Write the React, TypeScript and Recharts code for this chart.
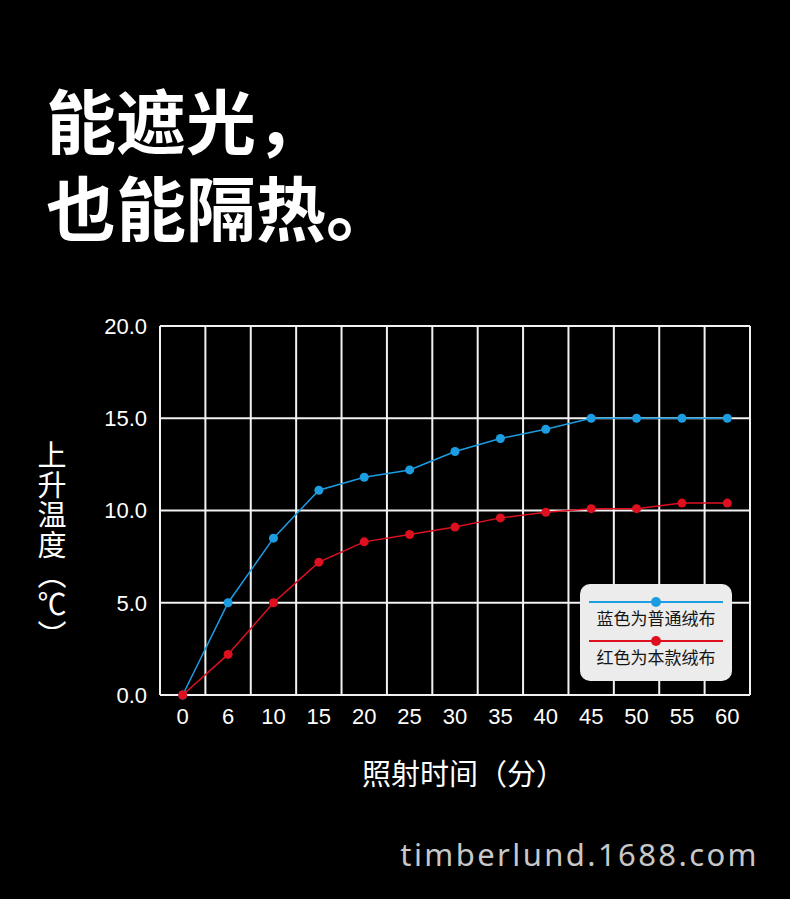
import React from 'react';
import { CartesianGrid, Legend, Line, LineChart, XAxis, YAxis } from 'recharts';

const minutes = ['0', '6', '10', '15', '20', '25', '30', '35', '40', '45', '50', '55', '60'];
const normalFabric = [0, 5.0, 8.5, 11.1, 11.8, 12.2, 13.2, 13.9, 14.4, 15.0, 15.0, 15.0, 15.0];
const ourFabric = [0, 2.2, 5.0, 7.2, 8.3, 8.7, 9.1, 9.6, 9.9, 10.1, 10.1, 10.4, 10.4];
const yTicks = [0, 5, 10, 15, 20];
const seriesNames = ['蓝色为普通绒布', '红色为本款绒布'];

const BLUE = '#1c9de2';
const RED = '#de1020';
const CJK = '"Noto Sans CJK SC", "Noto Sans", sans-serif';
const LATIN = '"Liberation Sans", Arial, sans-serif';

const data = minutes.map((m, i) => ({ i, minute: m, normal: normalFabric[i], ours: ourFabric[i] }));
const xTicks = minutes.map((_, i) => i);
// grid lines sit between the categories, not on them
const gridTicks = [...minutes.map((_, i) => i - 0.5), minutes.length - 0.5];
const xDomain = [-0.5, minutes.length - 0.5];

function LegendBox({ payload }: any) {
  const rows = [...(payload ?? [])].sort(
    (a: any, b: any) => seriesNames.indexOf(a.value) - seriesNames.indexOf(b.value),
  );
  return (
    <div
      style={{
        background: '#ececec',
        borderRadius: 10,
        width: 152,
        height: 97,
        boxSizing: 'border-box',
        paddingTop: 12,
        fontFamily: CJK,
      }}
    >
      {rows.map((r: any) => (
        <div key={r.value} style={{ marginBottom: 7, textAlign: 'center' }}>
          <svg width={134} height={12} style={{ display: 'block', margin: '0 auto' }}>
            <line x1={0} y1={6} x2={134} y2={6} stroke={r.color} strokeWidth={2} />
            <circle cx={67} cy={6} r={5} fill={r.color} />
          </svg>
          <div style={{ fontSize: 17, lineHeight: '20px', color: '#151515' }}>{r.value}</div>
        </div>
      ))}
    </div>
  );
}

export default function App() {
  return (
    <div style={{ position: 'absolute', left: 0, top: 0, width: 790, height: 899, background: '#000', overflow: 'hidden' }}>
      <div
        style={{
          position: 'absolute',
          left: 46,
          top: 75,
          fontFamily: CJK,
          fontWeight: 700,
          fontSize: 70,
          lineHeight: '87px',
          color: '#fff',
        }}
      >
        能遮光，
        <br />
        也能隔热。
      </div>

      <LineChart width={790} height={899} data={data} margin={{ top: 326, right: 40, bottom: 174, left: 0 }}>
        <CartesianGrid xAxisId="grid" stroke="#f2f2f2" strokeWidth={2} />
        <XAxis
          xAxisId="grid"
          dataKey="i"
          type="number"
          orientation="top"
          height={0}
          domain={xDomain}
          ticks={gridTicks}
          allowDataOverflow
          hide
        />
        <XAxis
          xAxisId="main"
          dataKey="i"
          type="number"
          domain={xDomain}
          ticks={xTicks}
          interval={0}
          allowDataOverflow
          tickFormatter={(v) => minutes[v] ?? ''}
          axisLine={false}
          tickLine={false}
          tickSize={0}
          tickMargin={13}
          tick={{ fill: '#fff', fontSize: 22, fontFamily: LATIN }}
        />
        <YAxis
          domain={[0, 20]}
          ticks={yTicks}
          width={160}
          tickFormatter={(v) => Number(v).toFixed(1)}
          axisLine={false}
          tickLine={false}
          tickSize={0}
          tickMargin={13}
          tick={{ fill: '#fff', fontSize: 22, fontFamily: LATIN }}
        />
        <Legend
          layout="horizontal"
          verticalAlign="middle"
          content={<LegendBox />}
          wrapperStyle={{ left: 580, top: 584, width: 152 }}
        />
        <Line
          xAxisId="main"
          name={seriesNames[0]}
          dataKey="normal"
          stroke={BLUE}
          strokeWidth={1.5}
          dot={{ r: 4.5, fill: BLUE, stroke: 'none' }}
          isAnimationActive={false}
        />
        <Line
          xAxisId="main"
          name={seriesNames[1]}
          dataKey="ours"
          stroke={RED}
          strokeWidth={1.5}
          dot={{ r: 4.5, fill: RED, stroke: 'none' }}
          isAnimationActive={false}
        />
      </LineChart>

      <div
        style={{
          position: 'absolute',
          left: 37,
          top: 440,
          width: 30,
          writingMode: 'vertical-rl',
          fontFamily: CJK,
          fontSize: 29,
          lineHeight: '30px',
          letterSpacing: 1,
          color: '#fff',
        }}
      >
        上升温度（℃）
      </div>
      <div
        style={{
          position: 'absolute',
          left: 362,
          top: 754,
          fontFamily: CJK,
          fontSize: 29,
          lineHeight: '36px',
          color: '#fff',
          whiteSpace: 'nowrap',
        }}
      >
        照射时间（分）
      </div>
      <div
        style={{
          position: 'absolute',
          right: 31,
          top: 834,
          fontFamily: '"Noto Sans", sans-serif',
          fontSize: 31,
          lineHeight: '40px',
          letterSpacing: 2.4,
          color: '#c8c8c8',
          whiteSpace: 'nowrap',
        }}
      >
        timberlund.1688.com
      </div>
    </div>
  );
}
